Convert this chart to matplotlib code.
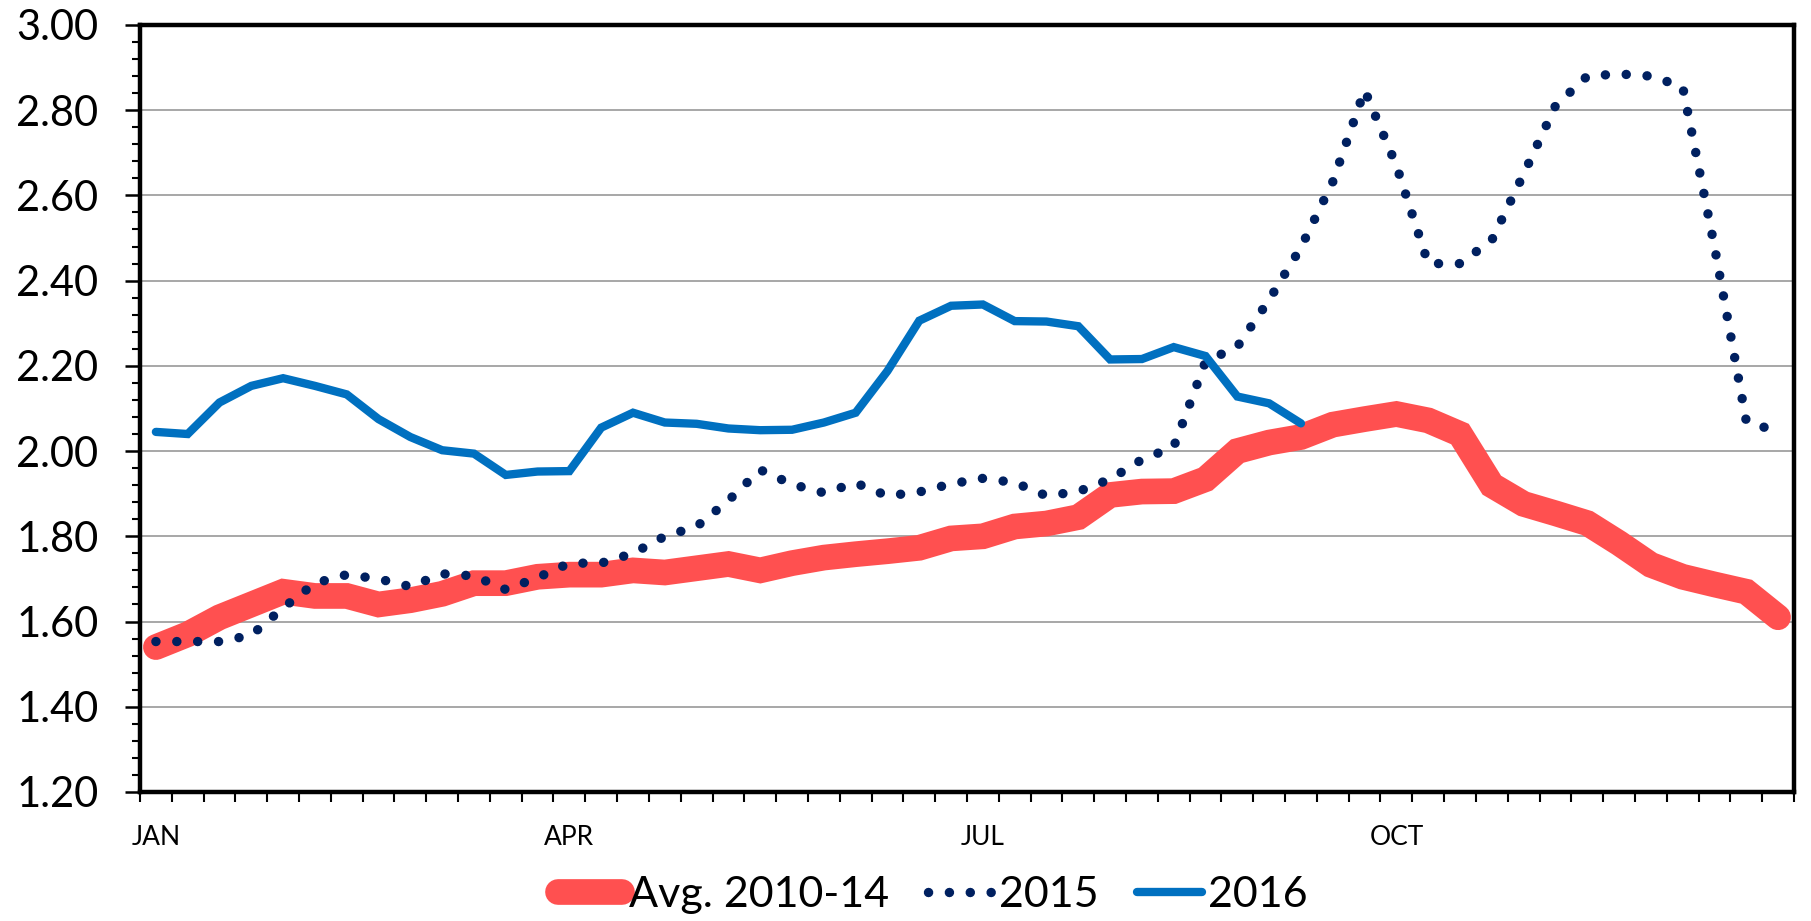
#!/usr/bin/env python3
"""
Weekly price chart: 2010-14 average vs 2015 vs 2016
"""

import matplotlib
matplotlib.use('Agg')
import matplotlib.pyplot as plt
from matplotlib.ticker import MultipleLocator, FormatStrFormatter
import numpy as np

# weekly values, week 0 = first week of January
avg_2010_14 = [1.54, 1.57, 1.61, 1.64, 1.67, 1.66, 1.66, 1.64, 1.65, 1.665,
               1.69, 1.69, 1.705, 1.71, 1.71, 1.72, 1.715, 1.725, 1.735, 1.72,
               1.737, 1.75, 1.758, 1.765, 1.773, 1.795, 1.80, 1.823, 1.83, 1.845,
               1.897, 1.905, 1.906, 1.934, 2.00, 2.02, 2.033, 2.062, 2.075, 2.087,
               2.072, 2.04, 1.92, 1.876, 1.854, 1.831, 1.784, 1.733, 1.705, 1.687,
               1.67, 1.61]

y2015 = [1.553, 1.553, 1.553, 1.568, 1.632, 1.69, 1.71, 1.70, 1.682, 1.712,
         1.707, 1.675, 1.703, 1.737, 1.737, 1.76, 1.80, 1.823, 1.884, 1.956,
         1.922, 1.902, 1.925, 1.895, 1.904, 1.923, 1.936, 1.926, 1.895, 1.905,
         1.934, 1.98, 2.01, 2.21, 2.245, 2.355, 2.478, 2.632, 2.847, 2.67,
         2.44, 2.44, 2.495, 2.65, 2.81, 2.88, 2.885, 2.88, 2.855, 2.48,
         2.07, 2.045]

y2016 = [2.045, 2.04, 2.114, 2.153, 2.171, 2.153, 2.133, 2.075, 2.033, 2.002,
         1.994, 1.944, 1.952, 1.953, 2.055, 2.09, 2.067, 2.064, 2.053, 2.049,
         2.05, 2.067, 2.09, 2.188, 2.306, 2.341, 2.344, 2.305, 2.304, 2.293,
         2.215, 2.216, 2.244, 2.223, 2.128, 2.112, 2.065]

month_labels = ['JAN', 'APR', 'JUL', 'OCT']
month_weeks = [0, 13, 26, 39]

RED = '#FF5050'
NAVY = '#002060'
BLUE = '#0070C0'


def main():
    plt.rcParams['font.family'] = ['Lato', 'DejaVu Sans']

    fig = plt.figure(figsize=(18.11, 9.21), dpi=100)
    ax = fig.add_axes([0.0773, 0.1401, 0.9133, 0.8328])

    n = len(avg_2010_14)
    weeks = np.arange(n)

    ax.plot(weeks, avg_2010_14, color=RED, lw=18.5, solid_capstyle='round',
            solid_joinstyle='miter', label='Avg. 2010-14', zorder=3)
    ax.plot(weeks, y2015, color=NAVY, lw=6.8, dashes=(0.01, 2.2),
            dash_capstyle='round', label='2015', zorder=4)
    ax.plot(weeks[:len(y2016)], y2016, color=BLUE, lw=6,
            solid_capstyle='round', solid_joinstyle='miter', label='2016', zorder=5)

    ax.set_xlim(-0.5, n - 0.5)
    ax.set_ylim(1.2, 3.0)

    # y axis
    ax.yaxis.set_major_locator(MultipleLocator(0.2))
    ax.yaxis.set_minor_locator(MultipleLocator(0.04))
    ax.yaxis.set_major_formatter(FormatStrFormatter('%.2f'))
    ax.tick_params(axis='y', which='major', length=11, width=1.8, pad=19,
                   labelsize=30, direction='out')
    ax.tick_params(axis='y', which='minor', length=6, width=1.5, direction='out')
    ax.grid(axis='y', which='major', color='#A0A0A0', lw=1.3, zorder=0)

    # x axis: tick marks between weeks, month names on the week
    ax.set_xticks(np.arange(n + 1) - 0.5)
    ax.set_xticklabels([])
    ax.set_xticks(month_weeks, month_labels, minor=True)
    ax.tick_params(axis='x', which='major', length=7, width=1.5, direction='out')
    ax.tick_params(axis='x', which='minor', length=0, pad=24, labelsize=19)

    for s in ax.spines.values():
        s.set_linewidth(3.2)
        s.set_color('black')
        s.set_zorder(6)

    fig.legend(loc='center', bbox_to_anchor=(0.515, 0.028), ncol=3,
               frameon=False, fontsize=31, handlelength=1.5,
               handletextpad=0.15, columnspacing=0.9, borderpad=0)

    plt.savefig('out.png', dpi=100)
    plt.close()


if __name__ == "__main__":
    main()
